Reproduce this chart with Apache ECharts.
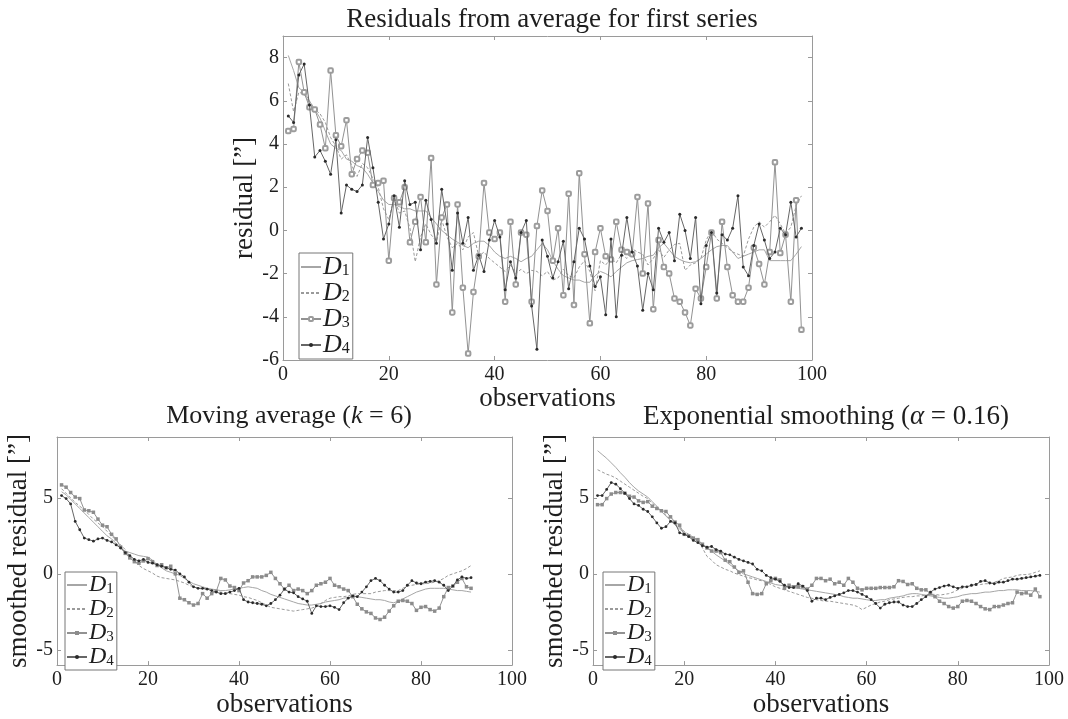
<!DOCTYPE html>
<html lang="en">
  <head>
    <meta charset="UTF-8" />
    <title>residuals</title>
    <style>
      html, body { margin: 0; padding: 0; background: #fff; }
      #main { width: 1068px; height: 719px; }
    </style>
  </head>
  <body>
    <div id="main"></div>
    <script src="https://cdn.jsdelivr.net/npm/echarts@6/dist/echarts.min.js"></script>
    <script>
      const myChart = echarts.init(document.getElementById('main'))
      const FONT = 'Liberation Serif'

      // raw residuals, observations 1..98
      var d1 = [8.1, 7.4, 6.6, 6.4, 6.0, 5.6, 5.2, 4.6, 4.0, 3.8, 3.7, 3.3, 3.2, 3.0, 2.9, 2.6, 2.2, 1.8, 1.4, 1.2, 1.2, 1.1, 1.0, 1.0, 0.9, 0.9, 0.9, 0.6, 0.3, 0.0, -0.2, -0.4, -0.55, -0.7, -0.8, -0.6, -0.5, -0.5, -0.7, -1.0, -1.2, -1.3, -1.2, -1.3, -1.45, -1.3, -1.2, -0.9, -0.6, -0.9, -1.4, -1.8, -2.1, -2.2, -2.3, -2.3, -2.4, -2.4, -2.1, -1.9, -2.0, -2.15, -1.9, -1.7, -1.5, -1.4, -1.35, -1.3, -1.2, -1.15, -0.8, -0.6, -0.9, -1.2, -1.35, -1.45, -1.5, -1.45, -1.3, -1.1, -0.9, -0.75, -0.7, -0.7, -1.0, -1.3, -1.2, -1.1, -1.0, -0.9, -0.9, -1.4, -1.4, -1.4, -1.4, -1.4, -1.1, -0.75]
      var d2 = [6.8, 5.5, 6.4, 6.3, 5.9, 5.6, 5.4, 5.0, 4.3, 3.9, 3.3, 3.5, 3.0, 2.5, 3.1, 2.9, 2.4, 2.0, 1.0, 0.5, 1.5, 0.8, 0.9, 0.1, -1.45, -0.3, 0.3, -0.2, -0.5, 0.5, -0.3, -0.8, -0.6, -0.9, -0.3, -0.1, -1.2, -1.0, -1.3, -1.5, -1.7, -1.9, -1.6, -2.0, -1.8, -2.0, -1.85, -1.9, -2.1, -1.9, -2.3, -2.2, -1.8, -2.1, -2.2, -1.7, -1.4, -1.9, -2.8, -1.4, -1.6, -1.3, -1.5, -1.1, -1.3, -0.85, -1.0, -1.1, -1.6, -1.3, -0.9, -1.25, -0.9, -0.65, -0.6, -1.85, -1.6, -1.5, -1.3, -0.45, 0.0, -0.4, -0.6, -0.8, -1.0, -1.1, -1.2, -0.4, 0.15, 0.4, 0.15, 0.4, 0.7, 0.3, -0.15, 0.15, 1.15, 1.6]
      var d3 = [4.6, 4.7, 7.8, 6.4, 5.7, 5.6, 4.9, 3.8, 7.4, 4.4, 3.9, 5.1, 2.6, 3.3, 3.7, 3.6, 2.1, 2.2, 2.3, -1.4, 1.5, 1.3, 2.0, -0.55, 0.4, 1.55, -0.55, 3.35, -2.5, 0.6, 1.2, -3.8, 1.2, -2.65, -5.7, -2.85, -1.2, 2.2, -0.1, -0.4, -0.1, -3.3, 0.4, -2.5, -0.1, -0.2, -3.3, 0.2, 1.85, 0.9, -1.4, 0.1, -3.0, 1.7, -3.45, 2.65, -1.1, -4.3, -1.0, 0.1, -1.2, -1.35, 0.4, -0.9, -1.0, -1.1, 1.55, -2.0, 1.25, -3.65, -0.45, -1.7, -2.0, -3.15, -3.3, -3.8, -4.4, -2.7, -3.15, -1.7, -0.1, -3.15, 0.4, -1.7, -3.0, -3.3, -3.3, -2.65, -0.8, -1.55, -2.5, -1.0, 3.15, -1.05, -0.2, -3.3, 1.4, -4.6]
      var d4 = [5.3, 5.0, 7.2, 7.7, 5.8, 3.4, 3.7, 3.2, 2.6, 4.2, 0.8, 2.1, 1.9, 1.8, 2.1, 4.3, 2.9, 1.3, -0.4, 0.3, 1.6, 0.15, 2.3, 1.2, 1.3, -0.9, 1.4, 0.5, -0.6, 1.9, 0.3, -1.85, 0.8, -0.6, 0.6, -1.85, -1.15, -1.9, -0.45, 0.46, -0.3, -2.75, -1.45, -2.2, -0.1, 0.46, -3.5, -5.5, -0.45, -1.2, -2.2, -1.45, -0.5, -2.7, -1.45, 0.1, -0.4, -1.65, -2.6, -2.15, -3.9, -0.4, -4.0, -1.15, 0.6, -1.0, -1.65, -3.7, -2.0, -2.75, 0.1, -0.55, -0.1, -1.4, 0.75, 0.0, -1.3, 0.6, -3.4, -0.7, -0.1, -2.9, -0.2, -0.45, 0.1, 1.6, -1.7, -2.1, -0.7, 0.3, -0.45, -1.3, -1.0, 0.1, -0.2, 1.3, -0.3, 0.1]

      // moving average (k = 6), observations 1..91
      var ma1 = [5.4, 5.2, 4.9, 4.6, 4.3, 4.0, 3.7, 3.4, 3.1, 2.8, 2.5, 2.3, 2.0, 1.7, 1.5, 1.4, 1.3, 1.2, 1.15, 1.1, 0.9, 0.6, 0.4, 0.2, 0.1, 0.0, -0.1, -0.3, -0.5, -0.65, -0.75, -0.85, -0.95, -1.0, -1.05, -1.1, -1.1, -1.05, -1.0, -0.95, -0.9, -0.85, -0.9, -0.95, -1.1, -1.2, -1.35, -1.45, -1.55, -1.65, -1.75, -1.85, -1.95, -2.0, -2.05, -2.05, -2.0, -1.95, -1.85, -1.8, -1.75, -1.7, -1.6, -1.55, -1.5, -1.5, -1.55, -1.6, -1.65, -1.7, -1.7, -1.75, -1.85, -1.9, -1.8, -1.65, -1.5, -1.35, -1.2, -1.1, -1.0, -0.95, -0.95, -0.95, -0.95, -1.0, -1.05, -1.1, -1.1, -1.15, -1.2]
      var ma2 = [5.6, 5.3, 5.0, 4.7, 4.45, 4.2, 3.9, 3.6, 3.35, 3.1, 2.8, 2.5, 2.2, 1.9, 1.6, 1.2, 0.85, 0.55, 0.35, 0.2, 0.05, -0.15, -0.25, -0.3, -0.35, -0.4, -0.5, -0.6, -0.75, -0.85, -0.95, -1.0, -1.05, -1.1, -1.15, -1.2, -1.25, -1.3, -1.35, -1.4, -1.5, -1.55, -1.65, -1.75, -1.9, -2.05, -2.2, -2.25, -2.3, -2.35, -2.4, -2.45, -2.4, -2.35, -2.3, -2.25, -2.15, -1.95, -1.75, -1.6, -1.55, -1.5, -1.5, -1.45, -1.35, -1.3, -1.3, -1.3, -1.3, -1.2, -1.15, -1.1, -1.1, -1.1, -1.1, -0.95, -0.8, -0.75, -0.7, -0.65, -0.65, -0.6, -0.55, -0.45, -0.3, -0.1, 0.0, 0.1, 0.2, 0.35, 0.55]
      var ma3 = [5.85, 5.7, 5.35, 5.05, 4.95, 4.2, 4.15, 4.05, 3.6, 3.2, 3.1, 2.6, 2.3, 1.75, 1.35, 1.05, 0.8, 0.7, 0.85, 1.0, 0.8, 0.55, 0.6, 0.4, 0.5, 0.0, -1.6, -1.7, -1.9, -2.05, -1.95, -1.3, -1.6, -1.3, -1.15, -0.3, -0.4, -0.8, -0.9, -1.1, -0.6, -0.45, -0.2, -0.2, -0.2, -0.1, 0.1, -0.3, -0.65, -1.0, -0.75, -1.1, -1.0, -1.1, -1.3, -1.1, -0.75, -0.65, -0.55, -0.3, -0.75, -0.85, -1.0, -1.1, -1.5, -2.0, -2.3, -2.5, -2.6, -2.9, -3.0, -2.85, -2.45, -2.1, -1.8, -1.75, -1.8, -1.95, -2.4, -2.2, -2.15, -2.35, -2.45, -2.25, -1.5, -0.9, -0.8, -0.55, -0.3, -0.85, -0.95]
      var ma4 = [5.15, 4.95, 4.6, 3.45, 2.9, 2.35, 2.25, 2.15, 2.3, 2.35, 2.2, 2.1, 1.9, 1.7, 1.4, 1.2, 0.95, 0.85, 0.95, 0.75, 0.7, 0.6, 0.5, 0.4, 0.3, 0.25, 0.0, -0.2, -0.55, -0.85, -0.95, -0.95, -1.0, -1.1, -1.2, -1.3, -1.3, -1.2, -1.1, -0.95, -1.7, -1.85, -1.9, -1.95, -2.0, -2.1, -1.95, -1.7, -1.4, -1.0, -1.2, -1.25, -1.5, -1.65, -1.8, -2.6, -2.1, -2.15, -2.15, -2.1, -2.2, -2.35, -1.9, -1.6, -1.45, -1.5, -1.2, -0.85, -0.45, -0.3, -0.45, -0.75, -1.0, -1.2, -1.2, -1.1, -0.75, -0.45, -0.6, -0.65, -0.55, -0.5, -0.45, -0.55, -0.75, -1.1, -0.8, -0.4, -0.2, -0.3, -0.25]

      // exponential smoothing (alpha = 0.16), observations 1..98
      var es1 = [8.1, 7.85, 7.6, 7.3, 7.0, 6.65, 6.35, 6.0, 5.7, 5.45, 5.25, 5.05, 4.75, 4.45, 4.1, 3.8, 3.5, 3.2, 2.95, 2.7, 2.5, 2.3, 2.15, 1.95, 1.75, 1.5, 1.25, 1.05, 0.85, 0.6, 0.4, 0.2, 0.0, -0.1, -0.2, -0.3, -0.4, -0.5, -0.6, -0.7, -0.75, -0.8, -0.85, -0.9, -0.95, -1.0, -1.05, -1.1, -1.15, -1.2, -1.25, -1.3, -1.35, -1.4, -1.5, -1.55, -1.6, -1.6, -1.65, -1.7, -1.75, -1.75, -1.7, -1.7, -1.6, -1.55, -1.5, -1.45, -1.35, -1.3, -1.3, -1.35, -1.4, -1.45, -1.5, -1.55, -1.6, -1.6, -1.55, -1.5, -1.4, -1.35, -1.3, -1.3, -1.25, -1.2, -1.2, -1.15, -1.1, -1.1, -1.05, -1.05, -1.05, -1.1, -1.1, -1.1, -1.15, -1.2]
      var es2 = [6.85, 6.7, 6.55, 6.45, 6.3, 6.1, 5.9, 5.7, 5.5, 5.3, 5.1, 4.95, 4.65, 4.4, 4.15, 3.85, 3.6, 3.3, 3.05, 2.8, 2.6, 2.4, 2.2, 1.7, 1.15, 0.9, 0.6, 0.45, 0.3, 0.2, 0.05, -0.05, -0.15, -0.25, -0.3, -0.4, -0.45, -0.55, -0.7, -0.85, -0.95, -1.05, -1.15, -1.25, -1.35, -1.45, -1.55, -1.6, -1.7, -1.75, -1.8, -1.8, -1.85, -1.9, -1.95, -2.0, -2.05, -2.15, -2.35, -2.2, -2.05, -1.95, -1.85, -1.8, -1.7, -1.65, -1.6, -1.55, -1.5, -1.5, -1.45, -1.45, -1.4, -1.35, -1.35, -1.4, -1.35, -1.3, -1.2, -1.05, -0.95, -0.85, -0.8, -0.75, -0.7, -0.65, -0.65, -0.55, -0.45, -0.3, -0.25, -0.2, -0.1, -0.05, -0.05, 0.0, 0.1, 0.2]
      var es3 = [4.55, 4.55, 4.95, 5.25, 5.35, 5.35, 5.3, 5.1, 5.05, 4.8, 4.7, 4.75, 4.45, 4.3, 4.15, 4.1, 3.75, 3.4, 3.2, 2.6, 2.5, 2.35, 2.25, 1.95, 1.7, 1.5, 1.5, 1.4, 0.9, 0.8, 0.45, 0.1, 0.2, -0.55, -1.3, -1.35, -1.3, -0.65, -0.45, -0.3, -0.4, -0.95, -0.75, -0.85, -0.85, -0.85, -1.0, -0.75, -0.3, -0.3, -0.45, -0.35, -0.65, -0.55, -0.75, -0.3, -0.55, -0.95, -1.05, -0.95, -0.95, -0.95, -0.9, -0.9, -0.9, -0.85, -0.45, -0.5, -0.7, -0.65, -0.95, -1.05, -1.05, -1.3, -1.5, -1.8, -1.95, -2.15, -2.25, -2.15, -1.8, -1.75, -1.8, -1.95, -2.15, -2.3, -2.35, -2.15, -2.15, -2.05, -1.95, -1.9, -1.2, -1.3, -1.25, -1.4, -1.0, -1.5]
      var es4 = [5.15, 5.15, 5.55, 6.0, 5.9, 5.6, 5.3, 4.95, 4.6, 4.5, 4.25, 4.1, 3.75, 3.35, 3.0, 3.1, 3.45, 3.35, 2.7, 2.6, 2.45, 2.2, 2.05, 1.85, 1.75, 1.8, 1.6, 1.5, 1.3, 1.25, 1.1, 0.95, 0.85, 0.75, 0.65, 0.3, 0.2, -0.1, -0.25, -0.35, -0.5, -0.75, -0.9, -0.9, -0.65, -0.8, -1.1, -1.8, -1.6, -1.6, -1.7, -1.55, -1.45, -1.35, -1.25, -1.1, -1.1, -1.2, -1.35, -1.5, -1.7, -1.95, -2.25, -2.0, -1.9, -1.85, -1.85, -2.05, -2.15, -2.15, -1.95, -1.7, -1.5, -1.2, -1.0, -0.9, -0.8, -0.75, -0.85, -0.95, -0.85, -0.85, -0.75, -0.7, -0.5, -0.45, -0.6, -0.65, -0.55, -0.55, -0.45, -0.35, -0.35, -0.3, -0.25, -0.2, -0.15, -0.1]

      var yTicksTop = [-6, -4, -2, 0, 2, 4, 6, 8]
      var yTicksBottom = [-5, 0, 5]

      var frame = '#9a9a9a'
      var ink = '#1e1e1e'

      function xAxes(g, gap) {
        return [
          {
            gridIndex: g, type: 'value', min: 0, max: 100, interval: 20,
            axisLine: { onZero: false, lineStyle: { color: frame } },
            axisTick: { inside: true, length: 4, lineStyle: { color: frame } },
            axisLabel: { color: ink, fontSize: 20, fontFamily: FONT, margin: 5 },
            splitLine: { show: false },
            name: 'observations', nameLocation: 'middle', nameGap: gap,
            nameTextStyle: { color: ink, fontSize: 27, fontFamily: FONT }
          },
          {
            gridIndex: g, type: 'value', min: 0, max: 100, interval: 20, position: 'top',
            axisLine: { onZero: false, lineStyle: { color: frame } },
            axisTick: { inside: true, length: 4, lineStyle: { color: frame } },
            axisLabel: { show: false },
            splitLine: { show: false }
          }
        ]
      }

      function yAxes(g, ticks, name, gap) {
        return [
          {
            gridIndex: g, type: 'value', min: -6, max: 9,
            axisLine: { onZero: false, lineStyle: { color: frame } },
            axisTick: { inside: true, length: 4, customValues: ticks, lineStyle: { color: frame } },
            axisLabel: { color: ink, fontSize: 20, fontFamily: FONT, margin: 4, customValues: ticks },
            splitLine: { show: false },
            name: name, nameLocation: 'middle', nameGap: gap, nameRotate: 90,
            nameTextStyle: { color: ink, fontSize: 27, fontFamily: FONT }
          },
          {
            gridIndex: g, type: 'value', min: -6, max: 9, position: 'right',
            axisLine: { onZero: false, lineStyle: { color: frame } },
            axisTick: { inside: true, length: 4, customValues: ticks, lineStyle: { color: frame } },
            axisLabel: { show: false },
            splitLine: { show: false }
          }
        ]
      }

      // D1 solid, D2 dashed, D3 squares, D4 dots
      function mk(name, values, g, k, big) {
        var s = {
          name: name, type: 'line', xAxisIndex: g * 2, yAxisIndex: g * 2,
          data: values.map(function (v, i) { return [i + 1, v] }),
          showAllSymbol: true, animation: false, silent: true, z: 2 + k
        }
        if (k === 1) {
          s.symbol = 'none'
          s.lineStyle = { color: '#a6a6a6', width: 1 }
          s.itemStyle = { color: '#a6a6a6', opacity: 0 }
        } else if (k === 2) {
          s.symbol = 'none'
          s.lineStyle = { color: '#9a9a9a', width: 1, type: [3, 2] }
          s.itemStyle = { color: '#9a9a9a', opacity: 0 }
        } else if (k === 3) {
          s.symbol = big ? 'emptyRoundRect' : 'rect'
          s.symbolSize = big ? 4.5 : 3.5
          s.lineStyle = { color: '#929292', width: 1 }
          s.itemStyle = big ? { color: '#9c9c9c', borderWidth: 1 } : { color: '#8c8c8c' }
        } else {
          s.symbol = 'circle'
          s.symbolSize = big ? 3 : 2.8
          s.lineStyle = { color: '#666', width: 1 }
          s.itemStyle = { color: '#2a2a2a' }
        }
        return s
      }

      function legendFor(ids, left, top, fs, row) {
        return {
          orient: 'vertical', left: left, top: top,
          data: ids,
          itemWidth: 20, itemHeight: 5, itemGap: 0,
          padding: [1, 3, 1, 1],
          borderColor: '#777', borderWidth: 1, backgroundColor: '#fff',
          selectedMode: false,
          formatter: function (n) { return '{d|D}{n|' + n.slice(-1) + '}' },
          textStyle: {
            fontFamily: FONT, color: ink, fontSize: 12, lineHeight: row, padding: [0, 0, 0, -3],
            rich: {
              d: { fontFamily: FONT, fontStyle: 'italic', fontSize: fs, lineHeight: row, color: ink },
              n: { fontFamily: FONT, fontSize: Math.round(fs * 0.62), lineHeight: row - 8, color: ink, padding: [8, 0, 0, 0] }
            }
          }
        }
      }

      var option = {
        backgroundColor: '#fff',
        animation: false,
        title: [
          { text: 'Residuals from average for first series', left: 547, top: 1, textAlign: 'center',
            textStyle: { fontFamily: FONT, fontSize: 27, fontWeight: 'normal', color: ink } },
          { text: 'Moving average ({i|k} = 6)', left: 284, top: 398, textAlign: 'center',
            textStyle: { fontFamily: FONT, fontSize: 26, fontWeight: 'normal', color: ink,
              rich: { i: { fontFamily: FONT, fontSize: 26, fontStyle: 'italic', color: ink } } } },
          { text: 'Exponential smoothing ({i|α} = 0.16)', left: 821, top: 398, textAlign: 'center',
            textStyle: { fontFamily: FONT, fontSize: 27, fontWeight: 'normal', color: ink,
              rich: { i: { fontFamily: FONT, fontSize: 27, fontStyle: 'italic', color: ink } } } }
        ],
        grid: [
          { left: 283, right: 256, top: 36, bottom: 359 },
          { left: 57, right: 556, top: 437, bottom: 47 },
          { left: 593, right: 19, top: 437, bottom: 47 }
        ],
        xAxis: [].concat(xAxes(0, 18), xAxes(1, 23), xAxes(2, 23)),
        yAxis: [].concat(
          yAxes(0, yTicksTop, 'residual [\u201d]', 12),
          yAxes(1, yTicksBottom, 'smoothed residual [\u201d]', 15),
          yAxes(2, yTicksBottom, 'smoothed residual [\u201d]', 14)
        ),
        legend: [
          legendFor(['top1', 'top2', 'top3', 'top4'], 299, 253, 26, 20),
          legendFor(['ma1', 'ma2', 'ma3', 'ma4'], 65, 572, 24, 20),
          legendFor(['es1', 'es2', 'es3', 'es4'], 603, 572, 24, 20)
        ],
        series: [
          mk('top1', d1, 0, 1, true), mk('top2', d2, 0, 2, true), mk('top3', d3, 0, 3, true), mk('top4', d4, 0, 4, true),
          mk('ma1', ma1, 1, 1, false), mk('ma2', ma2, 1, 2, false), mk('ma3', ma3, 1, 3, false), mk('ma4', ma4, 1, 4, false),
          mk('es1', es1, 2, 1, false), mk('es2', es2, 2, 2, false), mk('es3', es3, 2, 3, false), mk('es4', es4, 2, 4, false)
        ]
      }

      myChart.setOption(option)
    </script>
  </body>
</html>
